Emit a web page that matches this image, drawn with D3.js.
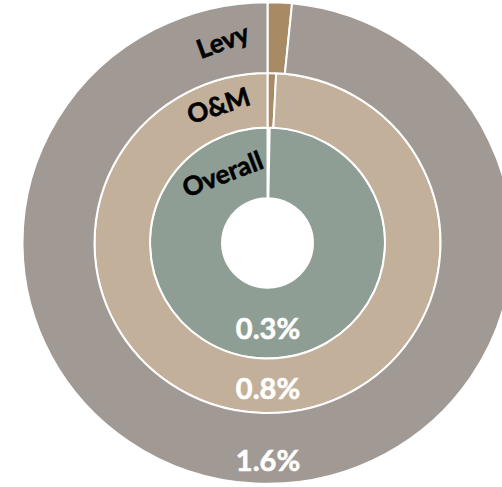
<!DOCTYPE html>
<html><head><meta charset="utf-8">
<script src="https://cdn.jsdelivr.net/npm/d3@7"></script>
<style>html,body{margin:0;padding:0;background:#fff;}svg{display:block;}</style>
</head><body>
<svg id="chart" width="502" height="487"></svg>
<script>
const rings = ["Overall", "O&M", "Levy"];
const smallValues = [0.3, 0.8, 1.6];
const restValues = [99.7, 99.2, 98.4];
const valueLabels = ["0.3%", "0.8%", "1.6%"];

const ringRadii = [[45.5, 117.5], [117.5, 173], [173, 245]];
const ringColors = ["#8F9E94", "#C3B09B", "#A19994"];
const sliceColor = "#A88B64";
const labelR = [84, 149, 211];
const labelAngle = [-32.6, -19.3, -12.3];
const labelRot = [-21, -18, -20];
const valueR = [86, 147, 220];

const svg = d3.select("#chart");
const g = svg.append("g").attr("transform", "translate(267.5,243) scale(1,0.983)");
const pie = d3.pie().sort(null).value(d => d);

rings.forEach((name, i) => {
  const arcs = pie([smallValues[i], restValues[i]]);
  const arc = d3.arc().innerRadius(ringRadii[i][0]).outerRadius(ringRadii[i][1]);
  g.selectAll(null).data(arcs).enter().append("path")
    .attr("d", arc)
    .attr("fill", (d, j) => j === 0 ? sliceColor : ringColors[i])
    .attr("stroke", "#fff").attr("stroke-width", 2);
});

const tg = svg.append("g").attr("transform", "translate(267.5,243)");
rings.forEach((name, i) => {
  const a = labelAngle[i] * Math.PI / 180;
  const x = labelR[i] * Math.sin(a), y = -labelR[i] * Math.cos(a) * 0.983;
  tg.append("text").attr("transform", `translate(${x},${y}) rotate(${labelRot[i]})`)
    .attr("text-anchor", "middle").attr("dominant-baseline", "central")
    .attr("font-family", "Lato, 'Open Sans', sans-serif").attr("font-weight", 700)
    .attr("font-size", 26).attr("fill", "#000")
    .attr("stroke", "#000").attr("stroke-width", 0.6).text(name);
  tg.append("text").attr("x", 0.5).attr("y", valueR[i] * 0.983)
    .attr("text-anchor", "middle").attr("dominant-baseline", "central")
    .attr("font-family", "Lato, 'Open Sans', sans-serif").attr("font-weight", 700)
    .attr("font-size", 29).attr("fill", "#fff")
    .attr("stroke", "#fff").attr("stroke-width", 0.6).text(valueLabels[i]);
});
</script>
</body></html>
